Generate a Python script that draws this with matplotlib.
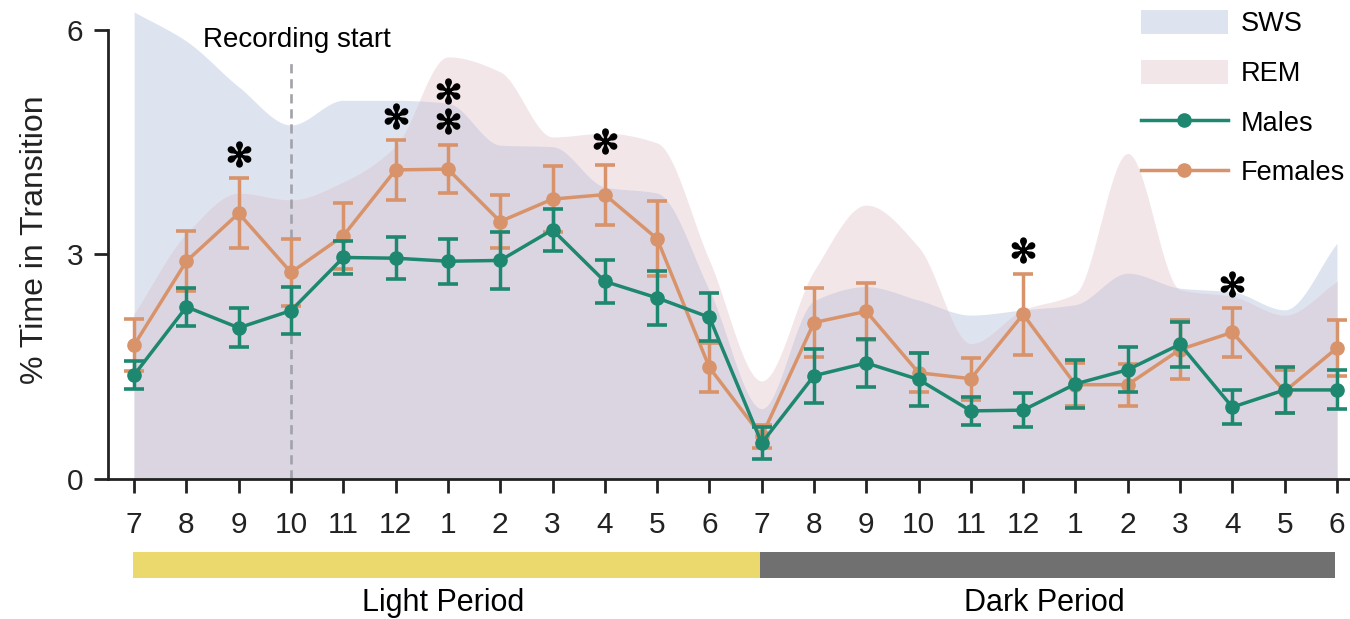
import numpy as np
import matplotlib

matplotlib.use('Agg')
import matplotlib.pyplot as plt
from matplotlib.patches import Patch, Rectangle
from matplotlib.lines import Line2D

plt.rcParams['font.family'] = ['Liberation Sans', 'DejaVu Sans']

hour_labels = ['7', '8', '9', '10', '11', '12', '1', '2', '3', '4', '5', '6',
               '7', '8', '9', '10', '11', '12', '1', '2', '3', '4', '5', '6']

males_mean = [1.39, 2.30, 2.02, 2.25, 2.96, 2.95, 2.91, 2.92, 3.33, 2.64, 2.42, 2.16,
              0.48, 1.38, 1.55, 1.33, 0.91, 0.92, 1.27, 1.46, 1.80, 0.96, 1.19, 1.19]
males_sem = [0.19, 0.25, 0.26, 0.31, 0.22, 0.28, 0.30, 0.38, 0.28, 0.29, 0.36, 0.32,
             0.21, 0.36, 0.32, 0.36, 0.19, 0.23, 0.32, 0.30, 0.30, 0.23, 0.31, 0.26]
females_mean = [1.79, 2.91, 3.55, 2.76, 3.25, 4.13, 4.14, 3.44, 3.74, 3.80, 3.21, 1.49,
                0.57, 2.09, 2.24, 1.42, 1.34, 2.20, 1.26, 1.26, 1.73, 1.96, 1.17, 1.75]
females_sem = [0.35, 0.40, 0.47, 0.45, 0.44, 0.40, 0.32, 0.36, 0.44, 0.40, 0.50, 0.33,
               0.15, 0.46, 0.38, 0.26, 0.28, 0.54, 0.29, 0.28, 0.40, 0.33, 0.29, 0.37]

# background sleep-stage profiles (same y scale)
sws = [6.24, 5.85, 5.24, 4.73, 5.06, 5.06, 5.02, 4.46, 4.44, 3.90, 3.82, 2.52,
       0.94, 2.38, 2.57, 2.39, 2.19, 2.26, 2.33, 2.75, 2.55, 2.50, 2.26, 3.15]
rem = [2.21, 3.28, 3.82, 3.73, 3.97, 4.45, 5.64, 5.44, 4.57, 4.62, 4.49, 2.92,
       1.31, 2.78, 3.66, 3.10, 1.81, 2.26, 2.48, 4.35, 2.53, 2.44, 2.19, 2.64]

sig_idx = [2, 5, 6, 9, 17, 21]
sig_count = [1, 1, 2, 1, 1, 1]

recording_start = 3
periods = ['Light Period', 'Dark Period']
period_edges = [0, 12, 23]

TEAL = '#1e8770'
ORANGE = '#d8936b'
SWS_C = '#dde4f0'
REM_C = '#f2e6e9'
BOTH_C = '#dad5e1'


def pchip(x, y, xs):
    # monotone cubic so the shaded profiles look smooth without overshoot
    x = np.asarray(x, float)
    y = np.asarray(y, float)
    h = np.diff(x)
    d = np.diff(y) / h
    m = np.zeros_like(y)
    for k in range(1, len(y) - 1):
        if d[k - 1] * d[k] > 0:
            w1 = 2 * h[k] + h[k - 1]
            w2 = h[k] + 2 * h[k - 1]
            m[k] = (w1 + w2) / (w1 / d[k - 1] + w2 / d[k])
    m[0] = d[0]
    m[-1] = d[-1]
    i = np.clip(np.searchsorted(x, xs) - 1, 0, len(x) - 2)
    t = (xs - x[i]) / h[i]
    h00 = 2 * t**3 - 3 * t**2 + 1
    h10 = t**3 - 2 * t**2 + t
    h01 = -2 * t**3 + 3 * t**2
    h11 = t**3 - t**2
    return h00 * y[i] + h10 * h[i] * m[i] + h01 * y[i + 1] + h11 * h[i] * m[i + 1]


x = np.arange(len(hour_labels))
xs = np.linspace(0, x[-1], 800)
sws_s = pchip(x, sws, xs)
rem_s = pchip(x, rem, xs)

fig = plt.figure(figsize=(13.5, 6.19), dpi=100)
ax = fig.add_axes([108 / 1350, 140 / 619, 1 - 108 / 1350, 479 / 619])

ax.fill_between(xs, 0, sws_s, color=SWS_C, lw=0, zorder=1)
ax.fill_between(xs, 0, rem_s, color=REM_C, lw=0, zorder=1)
ax.fill_between(xs, 0, np.minimum(sws_s, rem_s), color=BOTH_C, lw=0, zorder=1)

ax.vlines(recording_start, 0, 5.63, colors='#a2a2aa', linestyles=(0, (3.5, 2.2)), lw=1.9, zorder=2)
ax.text(recording_start + 0.12, 5.86, 'Recording start', ha='center', va='center', fontsize=20)

err_kw = dict(marker='o', ms=9.5, lw=2.5, elinewidth=2.5, capsize=7, capthick=2.6)
ax.errorbar(x, females_mean, yerr=females_sem, color=ORANGE, zorder=3, **err_kw)
ax.errorbar(x, males_mean, yerr=males_sem, color=TEAL, zorder=4, **err_kw)

for i, n in zip(sig_idx, sig_count):
    top = females_mean[i] + females_sem[i]
    for k in range(n):
        ax.plot(i, top + 0.32 + 0.4 * k, linestyle='none', marker='$\u273b$', ms=18,
                color='black', zorder=5)

ax.set_xlim(-0.5, 23.25)
ax.set_ylim(0, 6.4)
ax.set_yticks([0, 3, 6])
ax.set_xticks(x)
ax.set_xticklabels(hour_labels)
ax.tick_params(axis='both', labelsize=21.5, length=10, width=2.0, color='#222222', labelcolor='#222222')
ax.tick_params(axis='x', pad=13)
ax.tick_params(axis='y', pad=8)
ax.set_ylabel('% Time in Transition', fontsize=23, color='#222222', labelpad=12)
for s in ['top', 'right']:
    ax.spines[s].set_visible(False)
for s in ['left', 'bottom']:
    ax.spines[s].set_linewidth(2.0)
    ax.spines[s].set_color('#222222')
ax.spines['left'].set_bounds(0, 6)

period_colors = ['#ebd96e', '#707070']
for j, name in enumerate(periods):
    x0, x1 = period_edges[j], period_edges[j + 1]
    ax.add_patch(Rectangle((x0 - 0.03, -1.323), x1 - x0, 0.348, color=period_colors[j],
                           clip_on=False, lw=0))
    ax.text((x0 + x1) / 2 - 0.1, -1.66, name, ha='center', va='center', fontsize=22,
            clip_on=False)

handles = [Patch(facecolor=SWS_C, edgecolor='none'),
           Patch(facecolor=REM_C, edgecolor='none'),
           Line2D([], [], color=TEAL, lw=2.5, marker='o', ms=9.5),
           Line2D([], [], color=ORANGE, lw=2.5, marker='o', ms=9.5)]
fig.legend(handles, ['SWS', 'REM', 'Males', 'Females'], loc='upper left',
           bbox_to_anchor=(1141 / 1350, 1 - 10 / 619), frameon=False, fontsize=19.5,
           handlelength=3.2, handleheight=1.0, handletextpad=0.5, labelspacing=0.82,
           borderpad=0, borderaxespad=0)

fig.savefig('out.png', dpi=100)
